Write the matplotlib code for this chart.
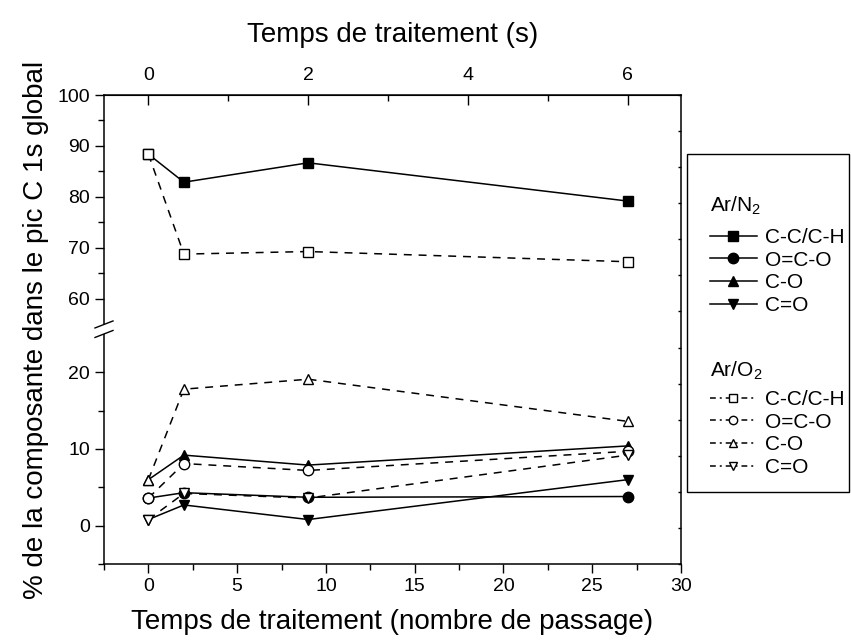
import numpy as np
import matplotlib
matplotlib.use("Agg")
import matplotlib.pyplot as plt
from matplotlib.lines import Line2D
from matplotlib.patches import Rectangle
from matplotlib.ticker import FixedLocator, FormatStrFormatter, NullFormatter

plt.rcParams["font.family"] = ["Liberation Sans", "DejaVu Sans"]
plt.rcParams["mathtext.fontset"] = "custom"
plt.rcParams["mathtext.rm"] = "Liberation Sans"

# Number of passes (bottom axis)
passes = [0, 2, 9, 27]

# Ar/N2 (filled symbols, solid lines)
n2_cc = [88.4, 82.9, 86.7, 79.2]
n2_oco = [3.6, 4.3, 3.7, 3.8]
n2_co = [6.0, 9.2, 7.9, 10.4]
n2_c_o = [0.8, 2.7, 0.8, 6.0]

# Ar/O2 (open symbols, dashed lines)
o2_cc = [88.4, 68.8, 69.3, 67.3]
o2_oco = [3.6, 8.1, 7.2, 9.7]
o2_co = [6.0, 17.8, 19.1, 13.6]
o2_c_o = [0.8, 4.2, 3.6, 9.2]

labels = ["C-C/C-H", "O=C-O", "C-O", "C=O"]
markers = ["s", "o", "^", "v"]

# broken y axis: lower part -5..25, upper part 55..100 (compressed)
LOW_TOP, HIGH_BOT = 25.0, 55.0
K, G = 0.665, 1.24


def fwd(y):
    y = np.asarray(y, dtype=float)
    return np.where(y <= 40, y, LOW_TOP + G + (y - HIGH_BOT) * K)


def inv(f):
    f = np.asarray(f, dtype=float)
    return np.where(f <= LOW_TOP + G / 2, f, HIGH_BOT + (f - LOW_TOP - G) / K)


fig = plt.figure(figsize=(8.51, 6.42), dpi=100)
ax = fig.add_axes([104 / 851, 78 / 642, 577 / 851, 469 / 642])
ax.set_yscale("function", functions=(fwd, inv))

ms = 7.5
dash = (0, (5.2, 4.5))
for ys, m in zip([n2_cc, n2_oco, n2_co, n2_c_o], markers):
    ax.plot(passes, ys, color="k", lw=1.1, marker=m, ms=ms, mfc="k", mec="k", zorder=3)
for ys, m in zip([o2_cc, o2_oco, o2_co, o2_c_o], markers):
    ax.plot(passes, ys, color="k", lw=1.1, ls=dash, marker=m, ms=ms,
            mfc="white", mec="k", mew=1.0, zorder=4)

ax.set_xlim(-2.5, 30)
ax.set_ylim(-5, 100)
ax.set_xticks([0, 5, 10, 15, 20, 25, 30])
ax.xaxis.set_minor_locator(FixedLocator([-2.5, 2.5, 7.5, 12.5, 17.5, 22.5, 27.5]))
ax.yaxis.set_major_locator(FixedLocator([0, 10, 20, 60, 70, 80, 90, 100]))
ax.yaxis.set_minor_locator(FixedLocator([-5, 5, 15, 65, 75, 85, 95]))
ax.yaxis.set_major_formatter(FormatStrFormatter("%d"))
ax.yaxis.set_minor_formatter(NullFormatter())
ax.tick_params(axis="both", which="major", labelsize=14, width=1.0, length=6.5, direction="out")
ax.tick_params(axis="both", which="minor", width=1.0, length=4, direction="out")
ax.tick_params(axis="x", top=False)
ax.tick_params(axis="y", right=False)
for s in ax.spines.values():
    s.set_linewidth(1.1)

ax.set_xlabel("Temps de traitement (nombre de passage)", fontsize=20, labelpad=10)
ax.set_ylabel("% de la composante dans le pic C 1s global", fontsize=20, labelpad=6)

# top axis: treatment time in seconds
sec = ax.secondary_xaxis("top", functions=(lambda x: np.asarray(x) * 2 / 9,
                                            lambda t: np.asarray(t) * 9 / 2))
sec.set_xticks([0, 2, 4, 6])
sec.xaxis.set_minor_locator(FixedLocator([1, 3, 5]))
sec.tick_params(which="major", direction="in", length=7, width=1.0, labelsize=14, pad=8)
sec.tick_params(which="minor", direction="in", length=4, width=1.0)
sec.set_xlabel("Temps de traitement (s)", fontsize=20, labelpad=18)

# small ticks on the right frame
rt = ax.twinx()
rt.set_ylim(0, 13)
rt.set_yticks(np.arange(14))
rt.tick_params(axis="y", direction="in", length=2.5, width=1.0, labelright=False)
for s in rt.spines.values():
    s.set_visible(False)

# axis break marks on the left spine
fig.canvas.draw()
inv_fig = fig.transFigure.inverted()
x0 = ax.transAxes.transform((0, 0))[0]
yl = ax.transData.transform((0, LOW_TOP))[1]
yh = ax.transData.transform((0, HIGH_BOT))[1]
p1 = inv_fig.transform((x0 - 1, yl))
p2 = inv_fig.transform((x0 + 1, yh))
fig.patches.append(Rectangle(p1, p2[0] - p1[0], p2[1] - p1[1], transform=fig.transFigure,
                             fc="white", ec="none", zorder=5))
for yy in (yl, yh):
    a = inv_fig.transform((x0 - 9, yy - 3.5))
    b = inv_fig.transform((x0 + 9, yy + 3.5))
    fig.add_artist(Line2D([a[0], b[0]], [a[1], b[1]], color="k", lw=1.0,
                          transform=fig.transFigure, zorder=6))

# legend
h_n2 = [Line2D([], [], color="k", lw=1.1, marker=m, ms=ms, mfc="k", mec="k") for m in markers]
h_o2 = [Line2D([], [], color="k", lw=1.1, ls=(0, (3.8, 2.6, 1.3, 2.6)), marker=m, ms=6,
               mfc="white", mec="k") for m in markers]
common = dict(loc="upper left", frameon=False, fontsize=15, handlelength=2.25,
              handletextpad=0.4, labelspacing=0.18, borderpad=0, borderaxespad=0)
fig.legend(h_n2, labels, bbox_to_anchor=(710 / 851, 1 - 228 / 642), **common)
fig.legend(h_o2, labels, bbox_to_anchor=(710 / 851, 1 - 390 / 642), **common)
fig.text(710 / 851, 1 - 206 / 642, "Ar/N$_\\mathregular{2}$", fontsize=15, va="center")
fig.text(710 / 851, 1 - 371 / 642, "Ar/O$_\\mathregular{2}$", fontsize=15, va="center")
fig.patches.append(Rectangle((687 / 851, 1 - 492 / 642), 162 / 851, 338 / 642,
                             transform=fig.transFigure, fill=False, ec="k", lw=1.0))

fig.savefig("out.png", dpi=100)
